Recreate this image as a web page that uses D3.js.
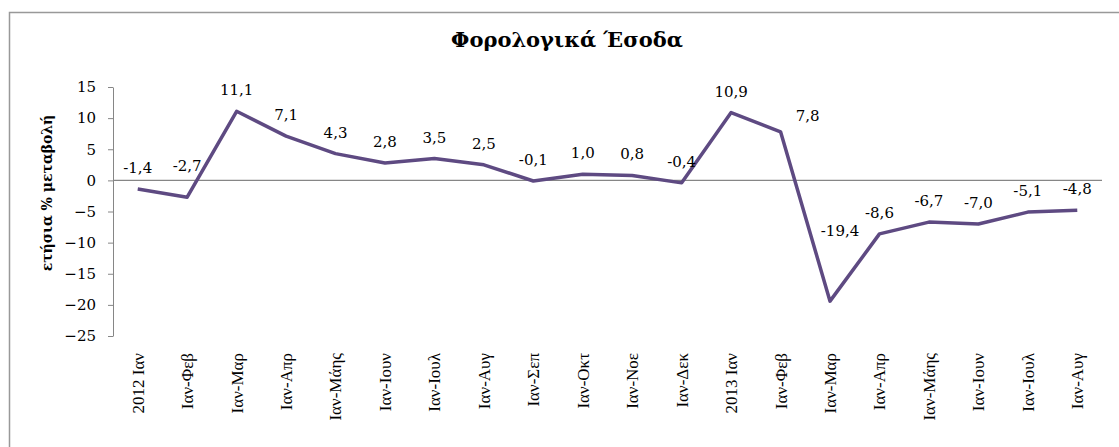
<html>
<head>
<meta charset="utf-8">
<style>
  body { margin: 0; background: #fff; font-family: "Liberation Serif", serif; }
</style>
</head>
<body>
<div id="chart-holder"></div>
<script src="https://d3js.org/d3.v7.min.js"></script>
<script>
// data
var categories = ['2012 Ιαν', 'Ιαν-Φεβ', 'Ιαν-Μαρ', 'Ιαν-Απρ', 'Ιαν-Μάης', 'Ιαν-Ιουν', 'Ιαν-Ιουλ',
  'Ιαν-Αυγ', 'Ιαν-Σεπ', 'Ιαν-Οκτ', 'Ιαν-Νοε', 'Ιαν-Δεκ', '2013 Ιαν', 'Ιαν-Φεβ', 'Ιαν-Μαρ',
  'Ιαν-Απρ', 'Ιαν-Μάης', 'Ιαν-Ιουν', 'Ιαν-Ιουλ', 'Ιαν-Αυγ'];
var values = [-1.4, -2.7, 11.1, 7.1, 4.3, 2.8, 3.5, 2.5, -0.1, 1.0, 0.8, -0.4, 10.9, 7.8, -19.4,
  -8.6, -6.7, -7.0, -5.1, -4.8];
var yTicks = [15, 10, 5, 0, -5, -10, -15, -20, -25];

var width = 1119;
var height = 447;
var margin = {top: 87, right: 17, bottom: 111, left: 113};
var innerWidth = width - margin.left - margin.right;
var innerHeight = height - margin.top - margin.bottom;

var numFont = '"DejaVu Serif", serif';

var svg = d3.select('#chart-holder')
  .append('svg')
  .attr('width', width)
  .attr('height', height);

// outer frame (right and bottom edges fall outside the picture)
svg.append('path')
  .attr('d', 'M9.5,' + height + 'V12.5H' + width)
  .attr('fill', 'none')
  .attr('stroke', '#999')
  .attr('stroke-width', 1.5);

var g = svg.append('g')
  .attr('transform', 'translate(' + margin.left + ',' + margin.top + ')');

// scales
var x = d3.scaleBand()
  .domain(d3.range(categories.length))
  .range([0, innerWidth]);

var y = d3.scaleLinear()
  .domain([-25, 15])
  .range([innerHeight, 0]);

// y axis
var yAxis = d3.axisLeft(y).tickValues(yTicks).tickSize(5).tickSizeOuter(0).tickPadding(12);
var ya = g.append('g').attr('class', 'y-axis').call(yAxis);
ya.select('.domain').attr('stroke', '#868686');
ya.selectAll('.tick line').attr('stroke', '#868686');
ya.selectAll('.tick text')
  .attr('fill', '#000')
  .style('font-family', numFont)
  .style('font-size', '15px');

// zero line
g.append('line')
  .attr('x1', 0).attr('x2', innerWidth)
  .attr('y1', y(0)).attr('y2', y(0))
  .attr('stroke', '#868686')
  .attr('stroke-width', 1.3);

// x labels
g.selectAll('.x-label')
  .data(categories)
  .enter()
  .append('text')
  .attr('class', 'x-label')
  .attr('transform', function(d, i) {
    return 'translate(' + (x(i) + x.bandwidth() / 2) + ',' + (innerHeight + 17) + ') rotate(-90)';
  })
  .attr('text-anchor', 'end')
  .attr('dy', '0.35em')
  .style('font-size', '17px')
  .text(function(d) { return d; });

// line
var line = d3.line()
  .x(function(d, i) { return x(i) + x.bandwidth() / 2; })
  .y(function(d) { return y(d); });

g.append('path')
  .datum(values)
  .attr('fill', 'none')
  .attr('stroke', '#5e4a82')
  .attr('stroke-width', 3.5)
  .attr('stroke-linejoin', 'round')
  .attr('d', line);

// data labels (a few were nudged by hand in the original)
var nudge = {1: [0, -10], 13: [27, 5], 14: [10, -49]};
g.selectAll('.value-label')
  .data(values)
  .enter()
  .append('text')
  .attr('class', 'value-label')
  .attr('x', function(d, i) { return x(i) + x.bandwidth() / 2 + (nudge[i] ? nudge[i][0] : 0); })
  .attr('y', function(d, i) { return y(d) - 16 + (nudge[i] ? nudge[i][1] : 0); })
  .attr('text-anchor', 'middle')
  .style('font-family', numFont)
  .style('font-size', '15px')
  .text(function(d) { return d3.format('.1f')(d).replace('.', ',').replace('−', '-'); });

// y axis title
svg.append('text')
  .attr('transform', 'translate(52,193) rotate(-90)')
  .attr('text-anchor', 'middle')
  .style('font-family', numFont)
  .style('font-size', '14px')
  .style('font-weight', 'bold')
  .text('ετήσια % μεταβολή');

// title
svg.append('text')
  .attr('x', 567)
  .attr('y', 47)
  .attr('text-anchor', 'middle')
  .style('font-family', numFont)
  .style('font-size', '21px')
  .style('font-weight', 'bold')
  .text('Φορολογικά Έσοδα');
</script>
</body>
</html>
